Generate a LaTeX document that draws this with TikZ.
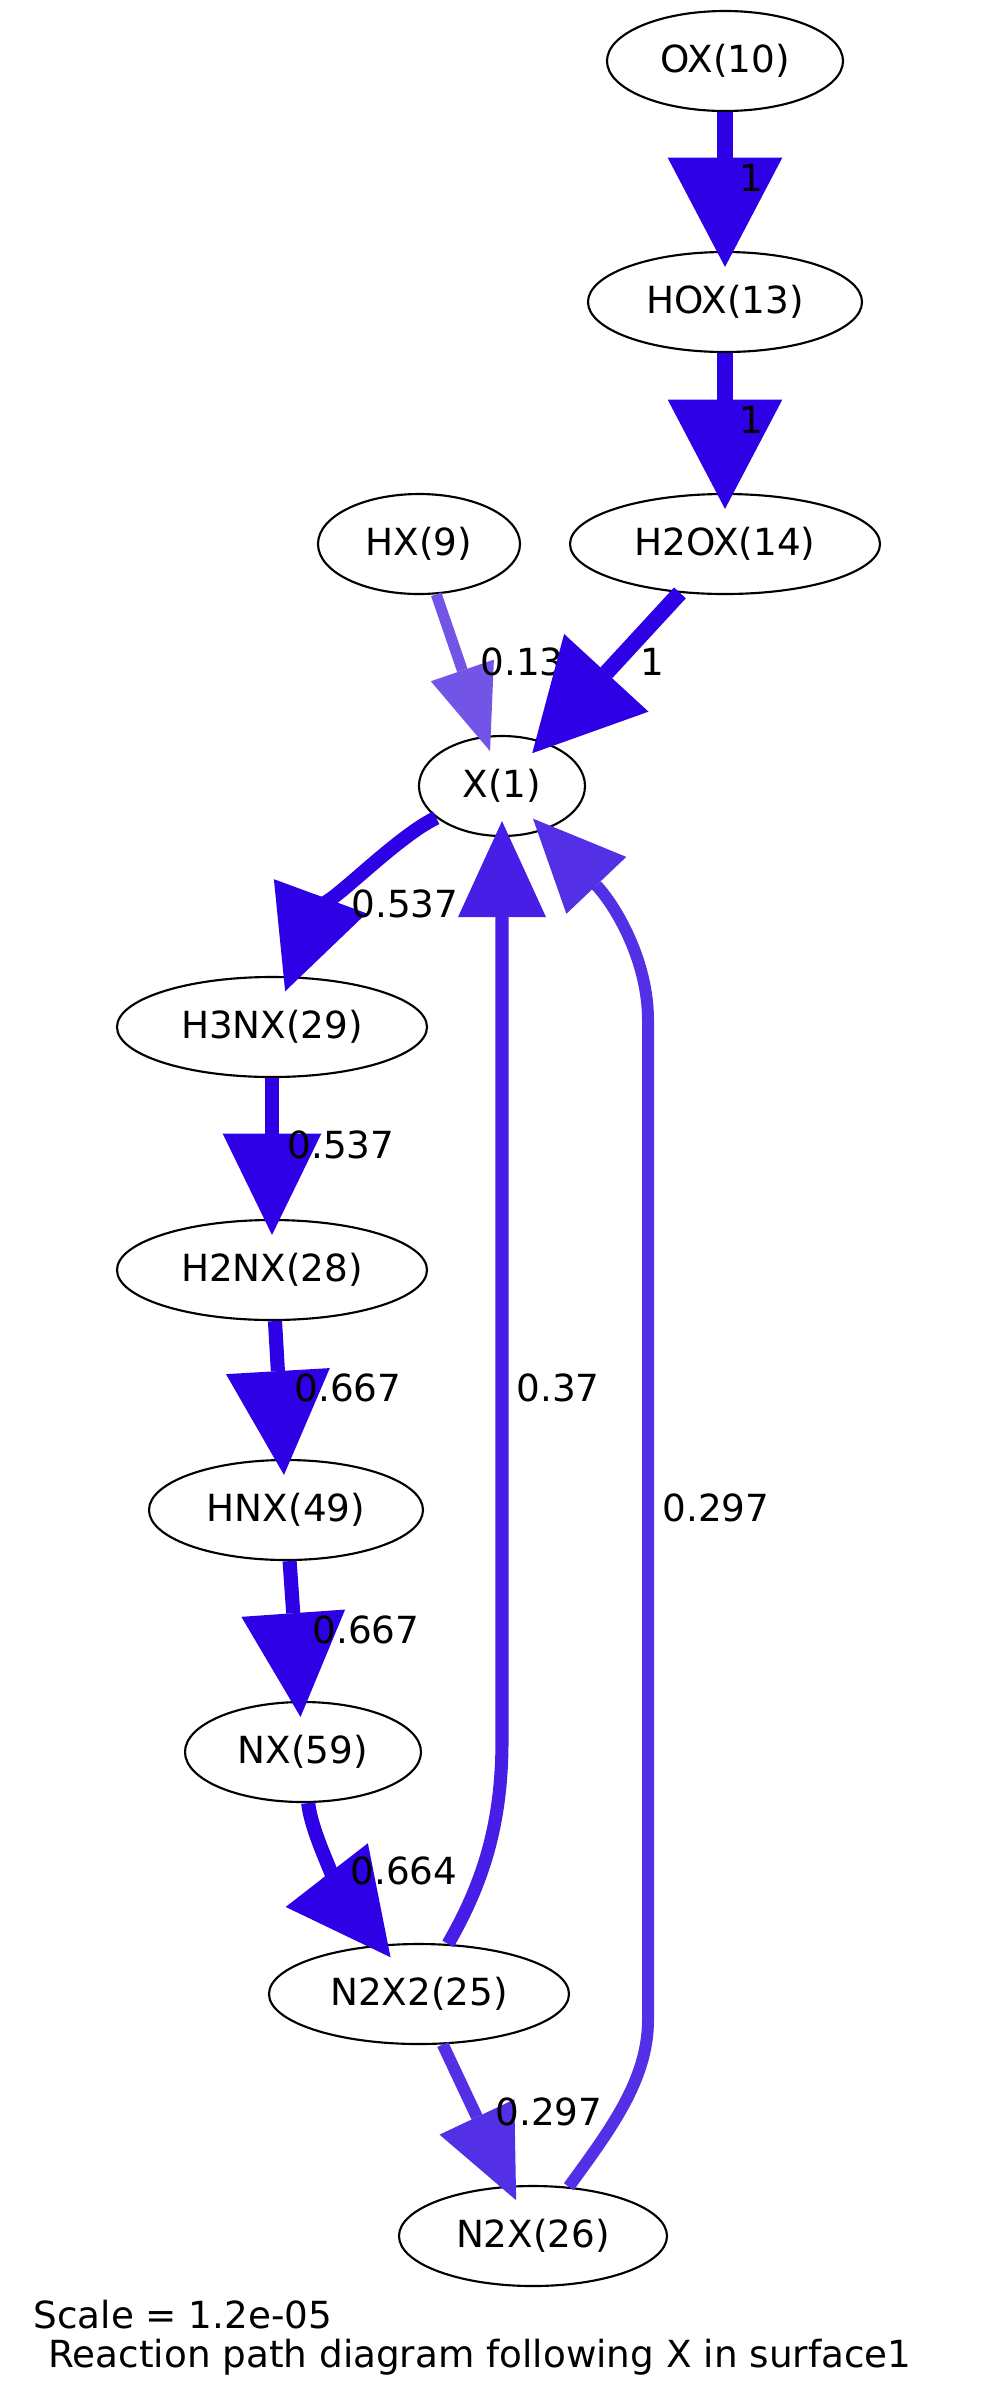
\documentclass[tikz,border=0pt]{standalone}
\usepackage{fontspec}
\setmainfont{DejaVu Sans}
\usetikzlibrary{positioning,arrows.meta,shapes.geometric}

\definecolor{fluxfull}{RGB}{46,0,230}
\definecolor{fluxmid}{RGB}{70,30,230}
\definecolor{fluxlow}{RGB}{83,47,230}
\definecolor{fluxweak}{RGB}{114,85,230}

\begin{document}
\begin{tikzpicture}[x=0.375pt,y=-0.375pt,
		species/.style={
				draw,
				ellipse,
				line width=0.8pt,
				inner sep=0pt,
				minimum height=37.5pt,
				font=\fontsize{14}{17}\selectfont},
		lbl/.style={inner sep=0pt, anchor=west, font=\fontsize{14}{17}\selectfont},
		rxn/.style={shorten >=-6pt},
		f100/.style={rxn, color=fluxfull, line width=6pt, -{Triangle[length=41pt,width=43pt,line width=0pt]}},
		f066/.style={rxn, color=fluxfull, line width=5.3pt, -{Triangle[length=39pt,width=39pt,line width=0pt]}},
		f053/.style={rxn, color=fluxfull, line width=5.3pt, -{Triangle[length=38pt,width=37pt,line width=0pt]}},
		f037/.style={rxn, color=fluxmid, line width=4.9pt, -{Triangle[length=36pt,width=33pt,line width=0pt]}},
		f029/.style={rxn, color=fluxlow, line width=4.5pt, -{Triangle[length=34.5pt,width=31pt,line width=0pt]}},
		f013/.style={rxn, color=fluxweak, line width=4.1pt, -{Triangle[length=32pt,width=25pt,line width=0pt]}}]

	\useasboundingbox (0,0) rectangle (997,2403);

	% species
	\node[species, minimum width=88.5pt] (OX) at (725,61) {OX(10)};
	\node[species, minimum width=102.75pt] (HOX) at (725,302) {HOX(13)};
	\node[species, minimum width=116.25pt] (H2OX) at (725,544) {H2OX(14)};
	\node[species, minimum width=75.75pt] (HX) at (419,544) {HX(9)};
	\node[species, minimum width=62.25pt] (X1) at (502,786) {X(1)};
	\node[species, minimum width=116.25pt] (H3NX) at (272,1027) {H3NX(29)};
	\node[species, minimum width=116.25pt] (H2NX) at (272,1270) {H2NX(28)};
	\node[species, minimum width=102.75pt] (HNX) at (286,1510) {HNX(49)};
	\node[species, minimum width=88.5pt] (NX) at (303,1752) {NX(59)};
	\node[species, minimum width=112.5pt] (N2X2) at (419,1994) {N2X2(25)};
	\node[species, minimum width=100.5pt] (N2X) at (533,2236) {N2X(26)};

	% fluxes
	\draw[f100] (OX) -- (HOX);
	\node[lbl] (fOX) at (739,178) {1};
	\draw[f100] (HOX) -- (H2OX);
	\node[lbl] (fHOX) at (739,420) {1};
	\draw[f013] (HX) -- (X1);
	\node[lbl] (fHX) at (480,662) {0.13};
	\draw[f100] (H2OX) -- (X1);
	\node[lbl] (fH2OX) at (640,662) {1};
	\draw[f053] (X1) .. controls (388,841) and (307,932) .. (H3NX);
	\node[lbl] (fX1) at (351,904) {0.537};
	\draw[f053] (H3NX) -- (H2NX);
	\node[lbl] (fH3NX) at (287,1145) {0.537};
	\draw[f066] (H2NX) -- (HNX);
	\node[lbl] (fH2NX) at (294,1388) {0.667};
	\draw[f066] (HNX) -- (NX);
	\node[lbl] (fHNX) at (312,1630) {0.667};
	\draw[f066] (NX) .. controls (312,1840) and (350,1905) .. (N2X2);
	\node[lbl] (fNX) at (350,1871) {0.664};
	\draw[f037] (N2X2) .. controls (485,1880) and (502,1820) .. (502,1740) -- (X1);
	\node[lbl] (fN2X2) at (516,1388) {0.37};
	\draw[f029] (N2X2) -- (N2X);
	\node[lbl] (fN2X2b) at (495,2112) {0.297};
	\draw[f029] (N2X) .. controls (610,2130) and (648,2080) .. (648,2020) -- (648,1020)
		.. controls (648,960) and (615,905) .. (X1);
	\node[lbl] (fN2X) at (662,1508) {0.297};

	\node[lbl] (scale) at (33,2315) {Scale = 1.2e-05};
	\node[lbl] (title) at (48,2357) {Reaction path diagram following X in surface1};

\end{tikzpicture}
\end{document}
